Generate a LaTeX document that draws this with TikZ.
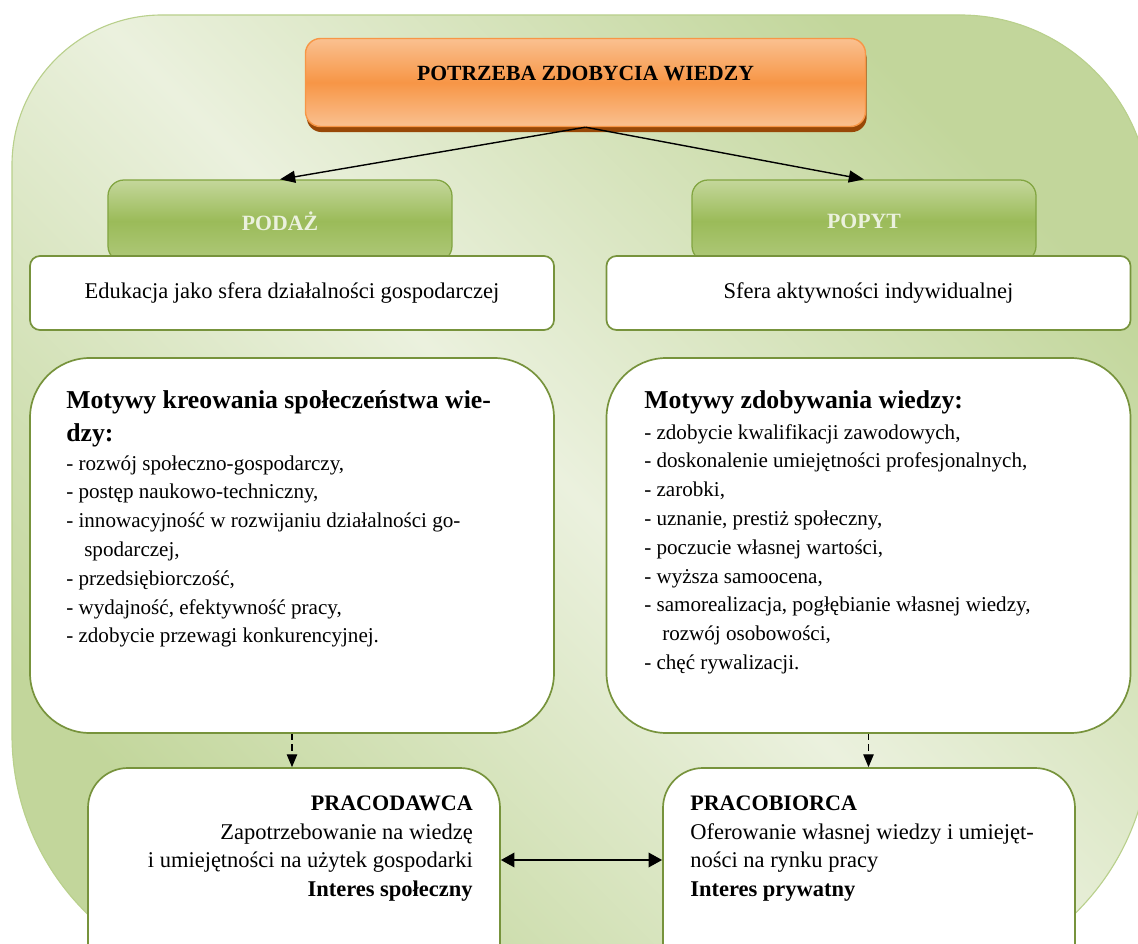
\documentclass[tikz,border=0pt]{standalone}
\usepackage{fontspec}
\setmainfont{Liberation Serif}
\usetikzlibrary{arrows.meta,positioning,shadows}
\definecolor{bgdark}{RGB}{194,214,155}
\definecolor{bglight}{RGB}{235,241,222}
\definecolor{bgedge}{RGB}{185,208,140}
\definecolor{olive}{RGB}{119,147,60}
\definecolor{tabtop}{RGB}{196,215,155}
\definecolor{tabmid}{RGB}{155,187,89}
\definecolor{tabedge}{RGB}{130,165,65}
\definecolor{tabtext}{RGB}{235,241,222}
\definecolor{peach}{RGB}{250,192,144}
\definecolor{tangerine}{RGB}{247,150,70}
\definecolor{rust}{RGB}{152,72,7}
\newcommand{\txtfont}{\fontsize{15}{20.5}\selectfont}
\newcommand{\boxfont}{\fontsize{16}{20.3}\selectfont}
\newcommand{\hdfont}{\fontsize{18.3}{20.5}\selectfont\bfseries}
\tikzset{
  need/.style={rectangle,rounded corners=3.75mm,draw=tangerine,line width=1pt,
    top color=peach,bottom color=peach,middle color=tangerine,
    minimum width=140mm,minimum height=22mm,
    drop shadow={shadow xshift=0.3mm,shadow yshift=-1.4mm,fill=rust,opacity=1}},
  tab/.style={rectangle,rounded corners=4mm,draw=tabedge,line width=0.9pt,
    top color=tabtop,bottom color=tabmid!80!white,middle color=tabmid,
    minimum width=86mm,minimum height=20.5mm,text=tabtext,
    font=\fontsize{15.5}{18}\selectfont\bfseries},
  panel/.style={rectangle,rounded corners=2.5mm,draw=olive,line width=1.2pt,fill=white,
    minimum width=131mm,minimum height=18.5mm,font=\boxfont},
  motbox/.style={panel,rounded corners=15mm,minimum height=93.75mm},
  rolebox/.style={panel,rounded corners=10mm,minimum width=103mm,minimum height=58mm},
  txt/.style={inner sep=0pt,font=\txtfont},
  link/.style={-{Triangle[length=3.8mm,width=3mm]},line width=1pt},
  dlink/.style={-{Triangle[length=3.2mm,width=2.6mm]},line width=0.9pt,
    dash pattern=on 1.6mm off 1mm},
  both/.style={{Triangle[length=3.4mm,width=3.6mm]}-{Triangle[length=3.4mm,width=3.6mm]},
    line width=1.6pt},
}
\begin{document}
\begin{tikzpicture}[x=0.25mm,y=-0.25mm]
  \useasboundingbox (0,0) rectangle (1138,944);
  \clip (0,0) rectangle (1138,944);
  % background
  \shade[top color=bgdark,bottom color=bgdark,middle color=bglight,shading angle=-45,
    draw=bgedge,line width=0.8pt]
    (12,165) arc[start angle=180,end angle=270,radius=150] -- (960,15)
    arc[start angle=270,end angle=360,radius=190] -- (1150,735)
    arc[start angle=0,end angle=90,radius=250] -- (262,985)
    arc[start angle=90,end angle=180,radius=250] -- cycle;

  \node[need] (need) at (585.5,82.5) {};
  \node[font=\fontsize{15.4}{18}\selectfont\bfseries] (needtxt) at ([yshift=-9mm]need.north) {POTRZEBA ZDOBYCIA WIEDZY};

  \node[tab] (podaz) at (280,221) {PODAŻ};
  \node[tab] (popyt) at (864,221) {POPYT};
  \node[panel] (supply) at (292,293) {Edukacja jako sfera działalności gospodarczej};
  \node[panel] (demand) at (868.5,293) {Sfera aktywności indywidualnej};

  \node[motbox] (supplymot) at (292,545.5) {};
  \node[motbox] (demandmot) at (868.5,545.5) {};
  \node[txt,anchor=north west,align=left] (supplylist) at (66,390)
    {{\hdfont Motywy kreowania społeczeństwa wie-}\\[3pt]
     {\hdfont dzy:}\\
     - rozwój społeczno-gospodarczy,\\
     - postęp naukowo-techniczny,\\
     - innowacyjność w rozwijaniu działalności go-\\
     \hspace*{4.5mm}spodarczej,\\
     - przedsiębiorczość,\\
     - wydajność, efektywność pracy,\\
     - zdobycie przewagi konkurencyjnej.};
  \node[txt,anchor=north west,align=left] (demandlist) at (644,390)
    {{\hdfont Motywy zdobywania wiedzy:}\\[1.5pt]
     - zdobycie kwalifikacji zawodowych,\\
     - doskonalenie umiejętności profesjonalnych,\\
     - zarobki,\\
     - uznanie, prestiż społeczny,\\
     - poczucie własnej wartości,\\
     - wyższa samoocena,\\
     - samorealizacja, pogłębianie własnej wiedzy,\\
     \hspace*{4.5mm}rozwój osobowości,\\
     - chęć rywalizacji.};

  \node[rolebox] (employer) at (294,884) {};
  \node[rolebox] (employee) at (869,884) {};
  \node[txt,font=\boxfont,anchor=north east,align=right] (employertxt) at (473,796)
    {{\fontsize{15.7}{20.3}\selectfont\bfseries PRACODAWCA}\\
     Zapotrzebowanie na wiedzę\\
     i umiejętności na użytek gospodarki\\
     \textbf{Interes społeczny}};
  \node[txt,font=\boxfont,anchor=north west,align=left] (employeetxt) at (690,796)
    {{\fontsize{15.7}{20.3}\selectfont\bfseries PRACOBIORCA}\\
     Oferowanie własnej wiedzy i umiejęt-\\
     ności na rynku pracy\\
     \textbf{Interes prywatny}};

  \draw[link] (need.south) -- (podaz.north);
  \draw[link] (need.south) -- (popyt.north);
  \draw[dlink] (supplymot.south) -- (supplymot.south |- employer.north);
  \draw[dlink] (demandmot.south) -- (demandmot.south |- employee.north);
  \draw[both] ([yshift=6mm]employer.east) -- ([yshift=6mm]employee.west);
\end{tikzpicture}
\end{document}
